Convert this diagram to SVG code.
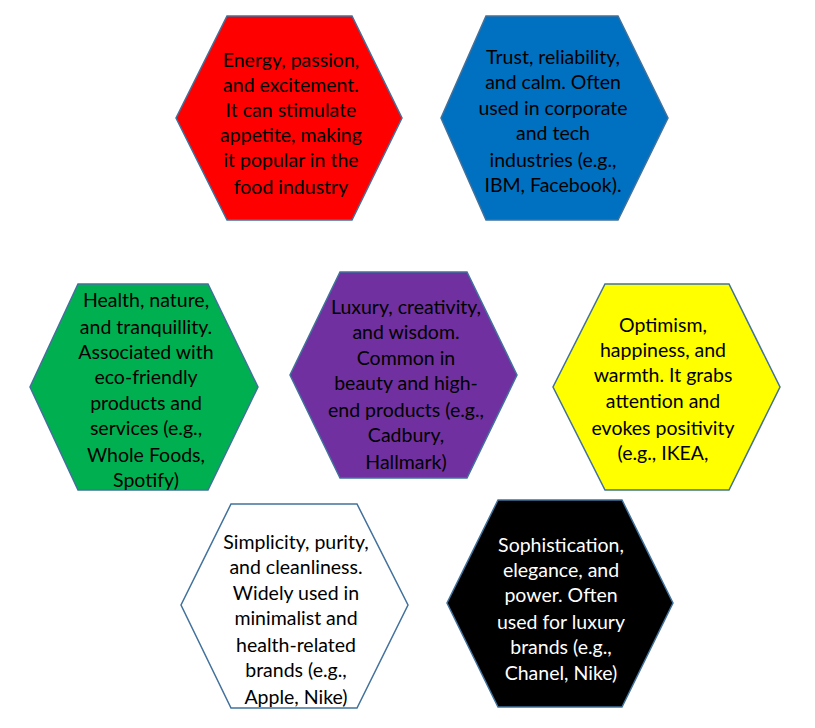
<svg xmlns="http://www.w3.org/2000/svg" width="815" height="728" viewBox="0 0 815 728">
<style>
.hex{stroke:#41719C;stroke-width:1.5}
text{font-family:Lato,"Open Sans","Liberation Sans",sans-serif;font-size:19.5px;text-anchor:middle;fill:#000}
.w{fill:#fff}
</style>
<rect width="815" height="728" fill="#fff"/>
<g id="red">
<polygon class="hex" fill="#FF0000" points="227,16 352,16 402,118 352,220 227,220 176,118"/>
<text x="291"><tspan x="291" y="67">Energy, passion,</tspan><tspan x="291" y="92">and excitement.</tspan><tspan x="291" y="117">It can stimulate</tspan><tspan x="291" y="142">appetite, making</tspan><tspan x="291" y="167">it popular in the</tspan><tspan x="291" y="194">food industry</tspan></text>
</g>
<g id="blue">
<polygon class="hex" fill="#0070C0" points="486,16 618,16 668,118 618,220 486,220 441,118"/>
<text x="553"><tspan x="553" y="64">Trust, reliability,</tspan><tspan x="553" y="89">and calm. Often</tspan><tspan x="553" y="115">used in corporate</tspan><tspan x="553" y="140">and tech</tspan><tspan x="553" y="167">industries (e.g.,</tspan><tspan x="553" y="192">IBM, Facebook).</tspan></text>
</g>
<g id="green">
<polygon class="hex" fill="#00B050" points="78,284 208,284 258,387 208,490 78,490 30,387"/>
<text><tspan x="146" y="307">Health, nature,</tspan><tspan x="146" y="334">and tranquillity.</tspan><tspan x="146" y="359">Associated with</tspan><tspan x="146" y="384">eco-friendly</tspan><tspan x="146" y="410">products and</tspan><tspan x="146" y="435">services (e.g.,</tspan><tspan x="146" y="462">Whole Foods,</tspan><tspan x="146" y="487">Spotify)</tspan></text>
</g>
<g id="purple">
<polygon class="hex" fill="#7030A0" points="340,272 467,272 517,375 467,478 340,478 290,375"/>
<text><tspan x="406" y="314">Luxury, creativity,</tspan><tspan x="406" y="339">and wisdom.</tspan><tspan x="406" y="365">Common in</tspan><tspan x="406" y="390">beauty and high-</tspan><tspan x="406" y="417">end products (e.g.,</tspan><tspan x="406" y="442">Cadbury,</tspan><tspan x="406" y="469">Hallmark)</tspan></text>
</g>
<g id="yellow">
<polygon class="hex" fill="#FFFF00" points="605,284 729,284 780,387 729,490 605,490 553,387"/>
<text><tspan x="663" y="332">Optimism,</tspan><tspan x="663" y="357">happiness, and</tspan><tspan x="663" y="382">warmth. It grabs</tspan><tspan x="663" y="408">attention and</tspan><tspan x="663" y="435">evokes positivity</tspan><tspan x="663" y="460">(e.g., IKEA,</tspan></text>
</g>
<g id="white">
<polygon class="hex" fill="#FFFFFF" points="231,504 357,504 408,605 357,708 231,708 181,605"/>
<text><tspan x="296" y="549">Simplicity, purity,</tspan><tspan x="296" y="574">and cleanliness.</tspan><tspan x="296" y="600">Widely used in</tspan><tspan x="296" y="625">minimalist and</tspan><tspan x="296" y="652">health-related</tspan><tspan x="296" y="677">brands (e.g.,</tspan><tspan x="296" y="704">Apple, Nike)</tspan></text>
</g>
<g id="black">
<polygon class="hex" fill="#000000" points="498,500 622,500 673,603 622,707 498,707 447,603"/>
<text class="w"><tspan x="561" y="552">Sophistication,</tspan><tspan x="561" y="577">elegance, and</tspan><tspan x="561" y="602">power. Often</tspan><tspan x="561" y="629">used for luxury</tspan><tspan x="561" y="654">brands (e.g.,</tspan><tspan x="561" y="680">Chanel, Nike)</tspan></text>
</g>
<g id="connectors"/>
</svg>
